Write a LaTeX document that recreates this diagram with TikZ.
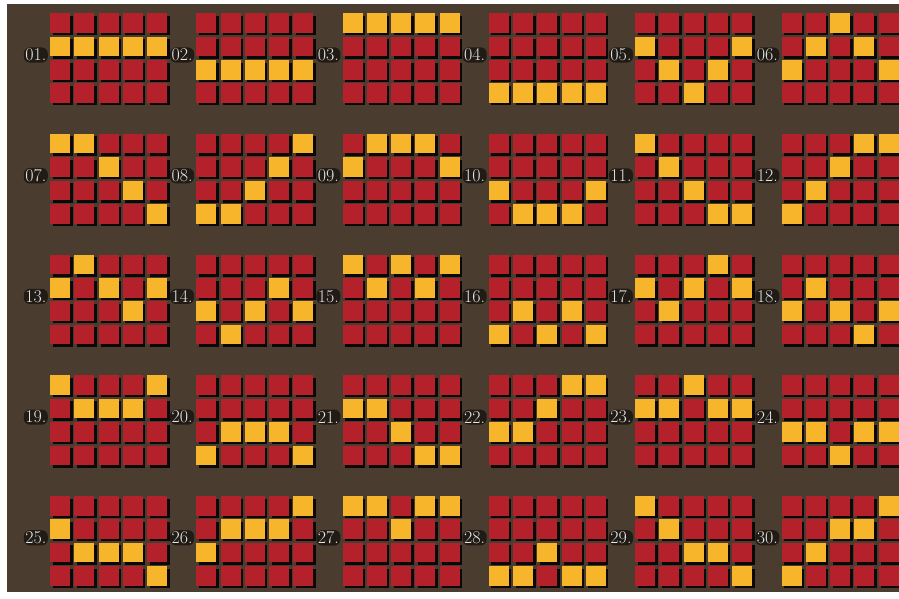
\documentclass[tikz,border=0pt]{standalone}
\usetikzlibrary{shadows}
\definecolor{bgbrown}{HTML}{4B3C30}
\definecolor{reelred}{HTML}{B5212B}
\definecolor{lineyellow}{HTML}{F7B52C}
\definecolor{labelgrey}{HTML}{E4E4E4}
\begin{document}
\begin{tikzpicture}[x=1pt, y=-1pt,
  cell/.style={minimum width=20pt, minimum height=19.5pt, inner sep=0pt, fill=reelred,
    drop shadow={shadow xshift=2.5pt, shadow yshift=-2.5pt, opacity=0.85, fill=black}},
  lit/.style={fill=lineyellow},
  unlit/.style={},
  linelabel/.style={anchor=east, text=labelgrey, fill=black, fill opacity=0.55, text opacity=1,
    rounded corners=6pt, inner sep=1.5pt, font=\fontsize{18}{18}\selectfont}]
  \useasboundingbox (0,0) rectangle (899,598);
  % white margin, brown board
  \fill[white] (0,0) rectangle (899,598);
  \fill[bgbrown] (7,4) rectangle (899,592);
  % 30 paylines: number / lit row (0 = top) in each of the 5 reels
  \foreach \n/\pA/\pB/\pC/\pD/\pE [count=\k from 0] in {
      01/1/1/1/1/1, 02/2/2/2/2/2, 03/0/0/0/0/0, 04/3/3/3/3/3, 05/1/2/3/2/1, 06/2/1/0/1/2,
      07/0/0/1/2/3, 08/3/3/2/1/0, 09/1/0/0/0/1, 10/2/3/3/3/2, 11/0/1/2/3/3, 12/3/2/1/0/0,
      13/1/0/1/2/1, 14/2/3/2/1/2, 15/0/1/0/1/0, 16/3/2/3/2/3, 17/1/2/1/0/1, 18/2/1/2/3/2,
      19/0/1/1/1/0, 20/3/2/2/2/3, 21/1/1/2/3/3, 22/2/2/1/0/0, 23/1/1/0/1/1, 24/2/2/3/2/2,
      25/1/2/2/2/3, 26/2/1/1/1/0, 27/0/0/1/0/0, 28/3/3/2/3/3, 29/0/1/2/2/3, 30/3/2/1/1/0}{
    \pgfmathtruncatemacro\gi{mod(\k,6)}
    \pgfmathtruncatemacro\gj{div(\k,6)}
    \pgfmathsetmacro\gx{50+146.3*\gi}
    \pgfmathsetmacro\gy{13+120.7*\gj}
    % 5 x 4 grid of reel cells
    \foreach \hit [count=\col from 0] in {\pA,\pB,\pC,\pD,\pE}{
      \foreach \r in {0,...,3}{
        \ifnum\r=\hit\relax \def\cc{lit}\else\def\cc{unlit}\fi
        \node[cell, \cc] (c\n-\col-\r) at ({\gx+10+24.25*\col},{\gy+10+23.4*\r}) {};
      }
    }
    \node[linelabel] (lbl\n) at ({\gx-2},{\gy+42}) {\n.};
  }
\end{tikzpicture}
\end{document}
